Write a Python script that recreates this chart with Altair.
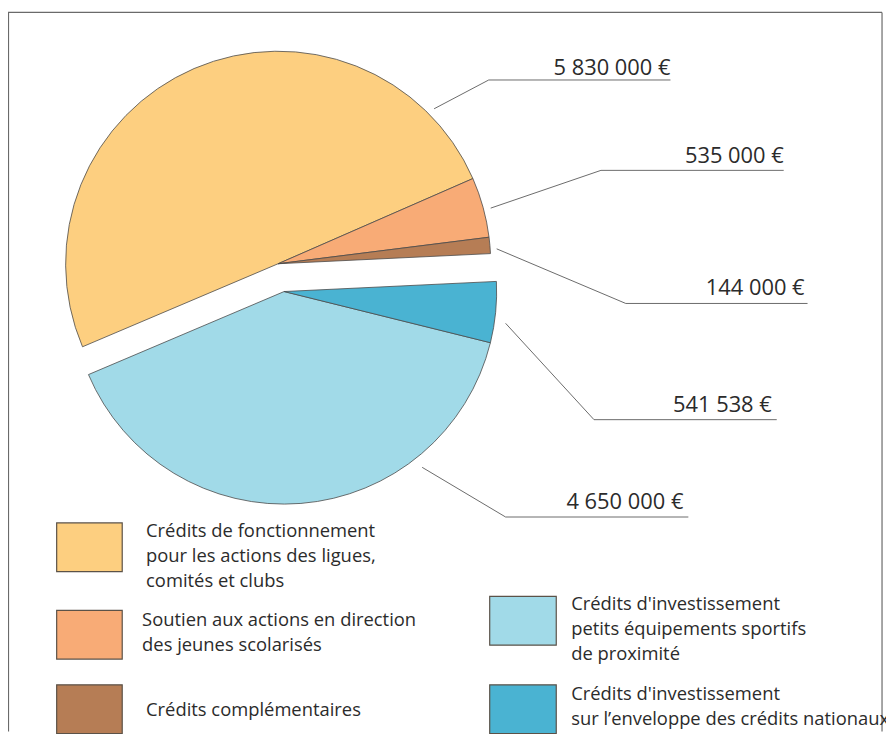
import math
import altair as alt
import pandas as pd

# ---------------- data ----------------
categories = [
    "Crédits de fonctionnement pour les actions des ligues, comités et clubs",
    "Soutien aux actions en direction des jeunes scolarisés",
    "Crédits complémentaires",
    "Crédits d'investissement petits équipements sportifs de proximité",
    "Crédits d'investissement sur l’enveloppe des crédits nationaux",
]
montants = [5830000, 535000, 144000, 4650000, 541538]
groupes = ["fonctionnement", "fonctionnement", "fonctionnement",
           "investissement", "investissement"]
ordre_secteurs = [1, 2, 3, 5, 4]
libelles_montants = ["5 830 000 €", "535 000 €", "144 000 €",
                     "4 650 000 €", "541 538 €"]
legende_lignes = [
    "Crédits de fonctionnement\npour les actions des ligues,\ncomités et clubs",
    "Soutien aux actions en direction\ndes jeunes scolarisés",
    "Crédits complémentaires",
    "Crédits d'investissement\npetits équipements sportifs\nde proximité",
    "Crédits d'investissement\nsur l’enveloppe des crédits nationaux",
]
couleurs = ["#FDCF80", "#F8AB76", "#B67D55", "#A1DAE8", "#4AB3D2"]

# ---------------- layout (pixels) ----------------
W, H = 884, 726
angle_depart = math.radians(247)
rayon = 214
centres = {"fonctionnement": (272, 255), "investissement": (278, 283)}

# leader lines: start, elbow, end  (per label, same order as categories)
repere_points = [
    [(429, 99), (484, 70), (667, 70)],
    [(486, 199), (597, 161), (781, 161)],
    [(492, 240), (622, 295), (805, 295)],
    [(417, 460), (501, 510), (685, 510)],
    [(501, 315), (590, 412), (774, 412)],
]
texte_montant_pos = [(667, 65), (781, 154), (802, 286), (680, 502), (769, 404)]
legende_carres = [
    (49, 516, 115, 565),
    (49, 604, 115, 653),
    (49, 679, 115, 728),
    (485, 590, 552, 639),
    (485, 679, 552, 728),
]
legende_texte_pos = [(139, 530), (135, 620), (139, 710), (567, 604), (567, 694)]

# ---------------- tables ----------------
df = pd.DataFrame({
    "categorie": categories,
    "montant": montants,
    "groupe": groupes,
    "ordre": ordre_secteurs,
})

couleur_scale = alt.Scale(domain=categories, range=couleurs)
xs = alt.Scale(domain=[0, W], range=[0, W], nice=False, zero=False)
ys = alt.Scale(domain=[0, H], range=[0, H], nice=False, zero=False)

base_pie = (
    alt.Chart(df)
    .transform_joinaggregate(total="sum(montant)")
    .transform_window(cum="sum(montant)", sort=[alt.SortField("ordre")])
    .transform_calculate(
        a0=f"{angle_depart} + 2*PI*(datum.cum - datum.montant)/datum.total",
        a1=f"{angle_depart} + 2*PI*datum.cum/datum.total",
    )
)


def secteurs(groupe):
    cx, cy = centres[groupe]
    return (
        base_pie.transform_filter(alt.datum.groupe == groupe)
        .mark_arc(outerRadius=rayon, stroke="#4a4a4a", strokeWidth=0.8)
        .encode(
            theta=alt.Theta("a0:Q", scale=None),
            theta2="a1:Q",
            color=alt.Color("categorie:N", scale=couleur_scale, legend=None),
            x=alt.value(cx),
            y=alt.value(cy),
        )
    )


rows = []
for i, pts in enumerate(repere_points):
    for j, (px, py) in enumerate(pts):
        rows.append({"id": i, "k": j, "x": px, "y": py})
df_reperes = pd.DataFrame(rows)

reperes = alt.Chart(df_reperes).mark_line(color="#5a5a5a", strokeWidth=0.9).encode(
    x=alt.X("x:Q", scale=xs, axis=None),
    y=alt.Y("y:Q", scale=ys, axis=None),
    detail="id:N",
    order="k:Q",
)

df_montants = pd.DataFrame({
    "texte": libelles_montants,
    "x": [p[0] for p in texte_montant_pos],
    "y": [p[1] for p in texte_montant_pos],
})
textes_montants = alt.Chart(df_montants).mark_text(
    align="right", baseline="alphabetic", font="Open Sans", fontSize=22,
    color="#2b2b2b",
).encode(
    x=alt.X("x:Q", scale=xs, axis=None),
    y=alt.Y("y:Q", scale=ys, axis=None),
    text="texte:N",
)

df_leg = pd.DataFrame({
    "categorie": categories,
    "x": [c[0] for c in legende_carres],
    "y": [c[1] for c in legende_carres],
    "x2": [c[2] for c in legende_carres],
    "y2": [c[3] for c in legende_carres],
    "tx": [p[0] for p in legende_texte_pos],
    "ty": [p[1] for p in legende_texte_pos],
    "texte": legende_lignes,
})
carres = alt.Chart(df_leg).mark_rect(stroke="#5b5248", strokeWidth=1.2).encode(
    x=alt.X("x:Q", scale=xs, axis=None),
    x2="x2:Q",
    y=alt.Y("y:Q", scale=ys, axis=None),
    y2="y2:Q",
    color=alt.Color("categorie:N", scale=couleur_scale, legend=None),
)
textes_leg = alt.Chart(df_leg).mark_text(
    align="left", baseline="alphabetic", font="Open Sans", fontSize=18.5,
    lineBreak="\n", lineHeight=25, color="#2b2b2b",
).encode(
    x=alt.X("tx:Q", scale=xs, axis=None),
    y=alt.Y("ty:Q", scale=ys, axis=None),
    text="texte:N",
)

# frame (top, left, right)
df_cadre = pd.DataFrame({
    "x": [0, 0.5, 880],
    "x2": [880, 0.5, 880],
    "y": [2, 2, 2],
    "y2": [2, H, H],
})
cadre = alt.Chart(df_cadre).mark_rule(color="#6a6a6a", strokeWidth=1.2).encode(
    x=alt.X("x:Q", scale=xs, axis=None),
    x2="x2:Q",
    y=alt.Y("y:Q", scale=ys, axis=None),
    y2="y2:Q",
)

chart = (
    alt.layer(
        cadre,
        secteurs("fonctionnement"),
        secteurs("investissement"),
        reperes,
        textes_montants,
        carres,
        textes_leg,
    )
    .properties(width=W, height=H, autosize=alt.AutoSizeParams(type="none"),
                padding=0)
    .configure_view(stroke=None)
)

chart.save("out.html", embed_options={"renderer": "svg", "actions": False})
